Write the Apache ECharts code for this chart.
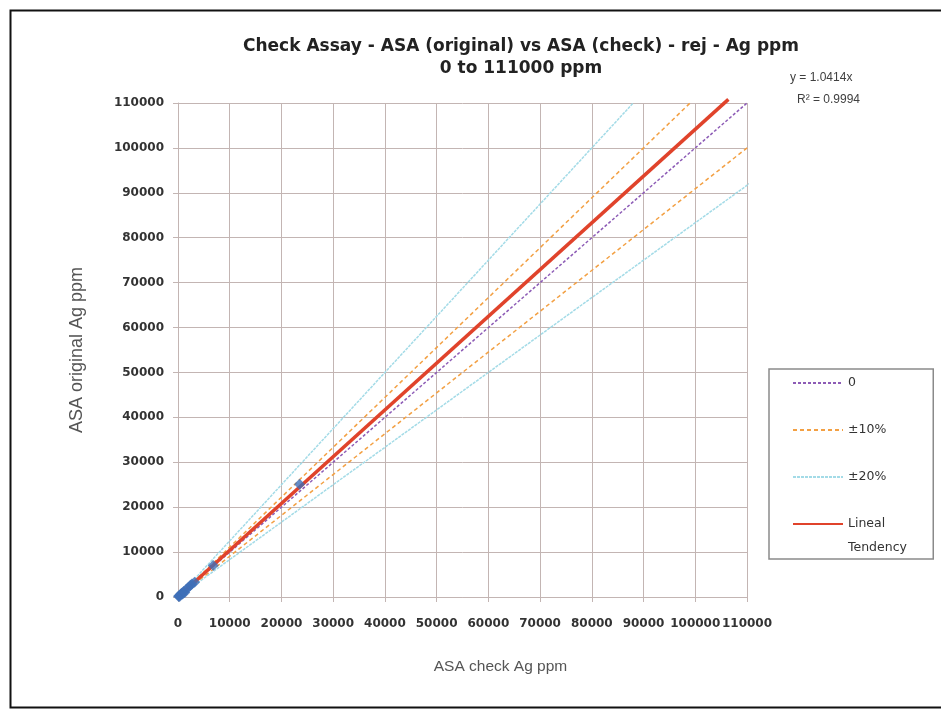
<!DOCTYPE html>
<html>
<head>
<meta charset="utf-8">
<script src="https://cdn.jsdelivr.net/npm/echarts@6/dist/echarts.min.js"></script>
<style>
html,body{margin:0;padding:0;background:#fff;}
#c{width:941px;height:710px;}
</style>
</head>
<body>
<div id="c"></div>
<script>
// ---- data ----
const titleLines = ['Check Assay - ASA (original) vs ASA (check) - rej - Ag ppm', '0 to 111000 ppm'];
const xAxisName = 'ASA check Ag ppm';
const yAxisName = 'ASA original Ag ppm';
const equationText = ['y = 1.0414x', 'R² = 0.9994'];

// sample pairs: check (x) vs original (y)
const checkPpm    = [100, 200, 300, 450, 600, 800, 900, 1100, 1300, 1600, 2000, 2400, 2700, 3200, 6800, 23500, 106400];
const originalPpm = [150, 250, 120, 500, 700, 900, 650, 1200, 1000, 1700, 2100, 2600, 2900, 3300, 7000, 25100, 110700];

// reference lines (end points)
const zeroX = [0, 110000],   zeroY = [0, 110000];
const up10X = [0, 99000],    up10Y = [0, 110000];
const lo10X = [0, 111000],   lo10Y = [0, 100900];
const up20X = [0, 88000],    up20Y = [0, 110000];
const lo20X = [0, 111000],   lo20Y = [0, 92500];
// linear trend y = 1.0414x
const trendX = [0, 106400],  trendY = [0, 110800];

const legendNames = ['0', '±10%', '±20%', 'Lineal Tendency'];
const trendLegendLines = ['Lineal', 'Tendency'];

function pairs(xs, ys) { return xs.map((x, i) => [x, ys[i]]); }

const chart = echarts.init(document.getElementById('c'), null, {renderer: 'canvas'});

const axisLabelStyle = {fontFamily: 'DejaVu Sans', fontWeight: 'bold', fontSize: 12, color: '#333', formatter: v => String(v)};
const gridColor = '#c3b5b3';

function refLine(name, data, color, type, width, z) {
  return {
    name: name, type: 'line', data: data, symbol: 'none', clip: false,
    lineStyle: {color: color, width: width, type: type},
    itemStyle: {color: color}, silent: true, animation: false, z: z || 3
  };
}

const option = {
  backgroundColor: '#fff',
  animation: false,
  title: {
    text: titleLines.join('\n'),
    left: 516, top: 31, textAlign: 'center',
    textStyle: {fontFamily: 'DejaVu Sans', fontWeight: 'bold', fontSize: 17, lineHeight: 22, color: '#222'}
  },
  grid: {left: 178, right: 194, top: 103, bottom: 113, containLabel: false},
  xAxis: {
    type: 'value', min: 0, max: 110000, interval: 10000,
    name: xAxisName, nameLocation: 'middle', nameGap: 62,
    nameTextStyle: {fontFamily: 'Liberation Sans', fontSize: 15.5, color: '#555', padding: [0, 0, 0, 76]},
    axisLine: {show: true, lineStyle: {color: gridColor}},
    axisTick: {show: true, length: 5, lineStyle: {color: gridColor}},
    axisLabel: Object.assign({margin: 21}, axisLabelStyle),
    splitLine: {show: true, lineStyle: {color: gridColor, width: 1}}
  },
  yAxis: {
    type: 'value', min: 0, max: 110000, interval: 10000,
    name: yAxisName, nameLocation: 'middle', nameGap: 92,
    nameTextStyle: {fontFamily: 'Liberation Sans', fontSize: 18, color: '#555'},
    axisLine: {show: true, lineStyle: {color: gridColor}},
    axisTick: {show: true, length: 5, lineStyle: {color: gridColor}},
    axisLabel: Object.assign({margin: 14}, axisLabelStyle),
    splitLine: {show: true, lineStyle: {color: gridColor, width: 1}}
  },
  legend: {
    orient: 'vertical', left: 769, top: 369,
    data: legendNames,
    formatter: n => n === legendNames[3] ? trendLegendLines[0] : n,
    itemWidth: 50, itemHeight: 14, itemGap: 33,
    itemStyle: {opacity: 0},
    padding: [7, 47, 28, 23],
    borderColor: '#8a8a8a', borderWidth: 1.5,
    textStyle: {fontFamily: 'DejaVu Sans', fontSize: 12.5, lineHeight: 14, color: '#333'},
    selectedMode: false
  },
  series: [
    refLine('0', pairs(zeroX, zeroY), '#8d5cb6', [3, 2], 1.5),
    refLine('±10%', pairs(up10X, up10Y), '#f3a043', [4, 3], 1.5),
    refLine('±10%', pairs(lo10X, lo10Y), '#f3a043', [4, 3], 1.5),
    refLine('±20%', pairs(up20X, up20Y), '#a3dbe7', [3, 1], 1.5),
    refLine('±20%', pairs(lo20X, lo20Y), '#a3dbe7', [3, 1], 1.5),
    refLine('Lineal Tendency', pairs(trendX, trendY), '#e0432b', 'solid', 3.5, 4),
    {
      name: 'data', type: 'scatter', data: pairs(checkPpm, originalPpm),
      symbol: 'diamond', symbolSize: 11, itemStyle: {color: '#3f6fb8'}, z: 5
    }
  ],
  graphic: [
    {type: 'rect', left: 8, top: 8, shape: {width: 960, height: 697},
     style: {fill: 'none', stroke: '#111', lineWidth: 2}, silent: true},
    {type: 'text', left: 790, top: 72,
     style: {text: equationText[0], fontFamily: 'Liberation Sans', fontSize: 12, fill: '#404040'}},
    {type: 'text', left: 797, top: 94,
     style: {text: equationText[1], fontFamily: 'Liberation Sans', fontSize: 12, fill: '#404040'}},
    {type: 'text', left: 848, top: 541,
     style: {text: trendLegendLines[1], fontFamily: 'DejaVu Sans', fontSize: 12.5, fill: '#333'}}
  ]
};
chart.setOption(option);
</script>
</body>
</html>
